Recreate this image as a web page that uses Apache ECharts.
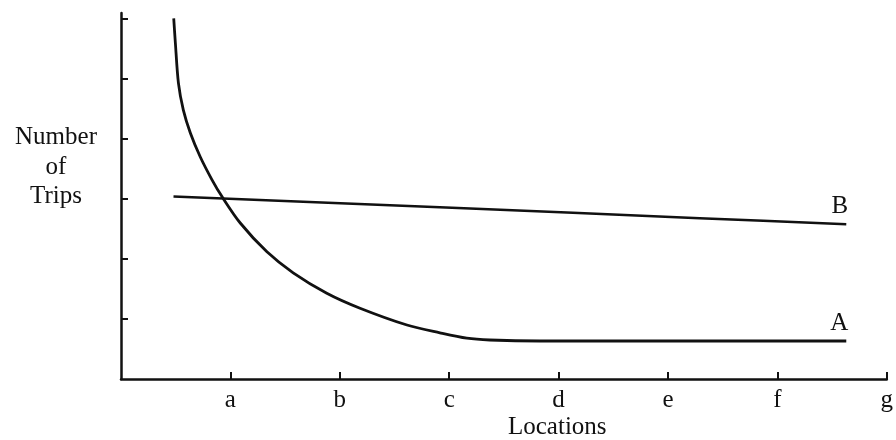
<!DOCTYPE html>
<html>
<head>
<meta charset="utf-8">
<script src="https://cdn.jsdelivr.net/npm/echarts@6/dist/echarts.min.js"></script>
<style>html,body{margin:0;padding:0;background:#fff}#c{width:896px;height:440px}</style>
</head>
<body>
<div id="c"></div>
<script>
// Category tick labels along the x axis (positions 0..7)
const xTickLabels = ['', 'a', 'b', 'c', 'd', 'e', 'f', 'g'];
const xTickValues = [1, 2, 3, 4, 5, 6, 7];
const yTickValues = [1, 2, 3, 4, 5, 6];

// Curve A (x in location units, y in trip units)
const curveAx = [0.482, 0.497, 0.525, 0.570, 0.634, 0.725, 0.832, 0.923, 1.090, 1.334, 1.574, 1.881, 2.185, 2.614, 2.915, 3.161, 3.371, 3.828, 5.2, 6.63];
const curveAy = [6.01, 5.6, 4.93, 4.48, 4.1, 3.7, 3.32, 3.04, 2.60, 2.12, 1.77, 1.43, 1.18, 0.90, 0.77, 0.68, 0.65, 0.633, 0.633, 0.633];

// Line B
const lineBx = [0.48, 2.97, 5.29, 6.63];
const lineBy = [3.04, 2.86, 2.68, 2.58];

const seriesNames = ['A', 'B'];
const xAxisTitle = 'Locations';
const yAxisTitle = ['Number', 'of', 'Trips'];

const ink = '#111';
const font = 'Liberation Serif';

function pairs(xs, ys) {
  return xs.map((x, i) => [x, ys[i]]);
}

function endLabel(name) {
  return {
    show: true, formatter: name, align: 'right', verticalAlign: 'bottom',
    distance: 0, offset: [2, -5],
    color: ink, fontFamily: font, fontSize: 25
  };
}

const chart = echarts.init(document.getElementById('c'), null, { renderer: 'canvas' });
chart.setOption({
  animation: false,
  backgroundColor: '#fff',
  grid: { left: 121, right: 8, top: 13, bottom: 61 },
  xAxis: {
    type: 'value', min: 0, max: 7, interval: 1,
    axisLine: { show: true, lineStyle: { color: ink, width: 2.5 } },
    axisTick: { show: true, inside: true, length: 7, lineStyle: { color: ink, width: 2 }, customValues: xTickValues },
    axisLabel: {
      show: true, customValues: xTickValues, formatter: v => xTickLabels[Math.round(v)],
      color: ink, fontFamily: font, fontSize: 25, margin: 9
    },
    splitLine: { show: false }
  },
  yAxis: {
    type: 'value', min: 0, max: 6.1,
    axisLine: { show: true, lineStyle: { color: ink, width: 2.5 } },
    axisTick: { show: true, inside: true, length: 7, lineStyle: { color: ink, width: 2 }, customValues: yTickValues },
    axisLabel: { show: false },
    splitLine: { show: false }
  },
  graphic: [
    {
      type: 'text', left: 508, top: 415,
      style: { text: xAxisTitle, fill: ink, font: '25px "Liberation Serif"' }
    },
    {
      type: 'text', x: 56, y: 123,
      style: { text: yAxisTitle.join('\n'), fill: ink, font: '25px "Liberation Serif"', align: 'center', lineHeight: 29.5 }
    }
  ],
  series: [
    {
      name: seriesNames[0], type: 'line', showSymbol: false, symbol: 'none',
      smooth: 0.3,
      lineStyle: { color: ink, width: 2.8 },
      endLabel: endLabel(seriesNames[0]),
      data: pairs(curveAx, curveAy)
    },
    {
      name: seriesNames[1], type: 'line', showSymbol: false, symbol: 'none',
      smooth: 0.3,
      lineStyle: { color: ink, width: 2.5 },
      endLabel: endLabel(seriesNames[1]),
      data: pairs(lineBx, lineBy)
    }
  ]
});
</script>
</body>
</html>
